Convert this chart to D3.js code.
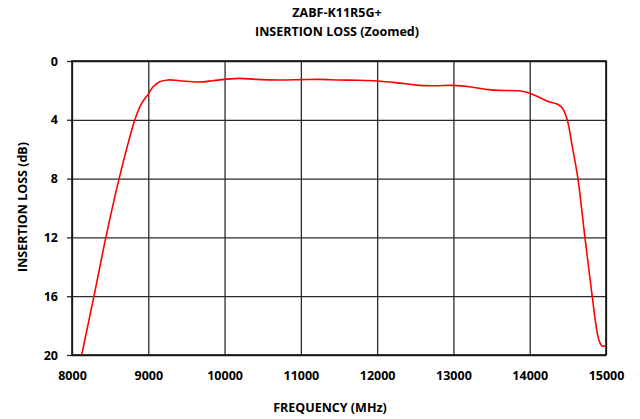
<!DOCTYPE html>
<html>
<head>
<meta charset="UTF-8">
<script src="https://d3js.org/d3.v7.min.js"></script>
<style>
  * { margin: 0; padding: 0; }
  body { background: #fff; width: 640px; height: 419px; overflow: hidden; font-family: 'Open Sans', sans-serif; }
  svg { display: block; }
  text { font-family: 'Open Sans', sans-serif; font-weight: 700; fill: #000; }
  .tick text { font-size: 12.5px; }
</style>
</head>
<body>
<svg id="chart" width="640" height="419"></svg>
<script>
const titleLines = ['ZABF-K11R5G+', 'INSERTION LOSS (Zoomed)'];
const xTicks = [8000, 9000, 10000, 11000, 12000, 13000, 14000, 15000];
const yTicks = [0, 4, 8, 12, 16, 20];

// frequency (MHz) and insertion loss (dB)
const freq = [8127, 8288, 8444, 8618, 8824, 8911, 9006, 9063, 9150, 9259, 9412, 9651, 9847, 10000,
  10196, 10414, 10719, 11000, 11242, 11503, 11750, 12000, 12242, 12549, 12767, 13000, 13203, 13464,
  13598, 13838, 13920, 14000, 14122, 14253, 14361, 14427, 14492, 14558, 14632, 14724, 14819, 14872,
  14907, 14950, 14995, 15000];
const loss = [20, 16, 12, 8, 4, 2.9, 2.2, 1.75, 1.41, 1.29, 1.34, 1.43, 1.34, 1.25,
  1.18, 1.25, 1.29, 1.27, 1.25, 1.29, 1.31, 1.36, 1.47, 1.66, 1.68, 1.66, 1.75, 1.95,
  2.0, 2.02, 2.08, 2.2, 2.47, 2.77, 2.93, 3.2, 4.0, 5.83, 8, 12, 16, 18.07,
  18.98, 19.4, 19.4, 19.9];

const svg = d3.select('#chart');
const m = { left: 72, right: 34, top: 61, bottom: 64 };
const W = 640 - m.left - m.right, H = 419 - m.top - m.bottom;

const x = d3.scaleLinear().domain([8000, 15000]).range([m.left, m.left + W]);
const y = d3.scaleLinear().domain([0, 20]).range([m.top, m.top + H]);

// titles
svg.selectAll('text.title').data(titleLines).join('text')
  .attr('class', 'title')
  .attr('x', 337).attr('y', (d, i) => 17 + i * 19)
  .attr('text-anchor', 'middle')
  .attr('font-size', 12.5)
  .text(d => d);

// grid
svg.append('g')
  .attr('transform', `translate(0,${m.top})`)
  .call(d3.axisBottom(x).tickValues(xTicks).tickSize(H).tickFormat(''))
  .call(g => g.select('.domain').remove())
  .call(g => g.selectAll('line').attr('stroke', '#2a2a2a').attr('stroke-width', 1.3));

svg.append('g')
  .attr('transform', `translate(${m.left},0)`)
  .call(d3.axisRight(y).tickValues(yTicks).tickSize(W).tickFormat(''))
  .call(g => g.select('.domain').remove())
  .call(g => g.selectAll('line').attr('stroke', '#2a2a2a').attr('stroke-width', 1.3));

// axes
svg.append('g')
  .attr('transform', `translate(${m.left},0)`)
  .call(d3.axisLeft(y).tickValues(yTicks).tickSize(5).tickPadding(9).tickFormat(d3.format('d')))
  .call(g => g.select('.domain').remove())
  .call(g => g.selectAll('line').attr('stroke', '#2a2a2a').attr('stroke-width', 1.3));

svg.append('g')
  .attr('transform', `translate(0,${m.top + H})`)
  .call(d3.axisBottom(x).tickValues(xTicks).tickSize(0).tickPadding(16).tickFormat(d3.format('d')))
  .call(g => g.select('.domain').remove());

// frame
svg.append('rect')
  .attr('x', m.left).attr('y', m.top).attr('width', W).attr('height', H)
  .attr('fill', 'none').attr('stroke', '#111').attr('stroke-width', 1.6);

// curve
svg.append('clipPath').attr('id', 'clip')
  .append('rect').attr('x', m.left).attr('y', m.top).attr('width', W).attr('height', H);

const pts = freq.map((f, i) => [f, loss[i]]);
svg.append('path')
  .datum(pts)
  .attr('clip-path', 'url(#clip)')
  .attr('fill', 'none')
  .attr('stroke', '#ff0000')
  .attr('stroke-width', 1.6)
  .attr('d', d3.line().x(d => x(d[0])).y(d => y(d[1])).curve(d3.curveCatmullRom.alpha(0.5)));

// axis titles
svg.append('text')
  .attr('x', 330).attr('y', 412)
  .attr('text-anchor', 'middle')
  .attr('font-size', 12.5)
  .text('FREQUENCY (MHz)');

svg.append('text')
  .attr('transform', `translate(27,207) rotate(-90)`)
  .attr('text-anchor', 'middle')
  .attr('font-size', 12.5)
  .text('INSERTION LOSS (dB)');
</script>
</body>
</html>
